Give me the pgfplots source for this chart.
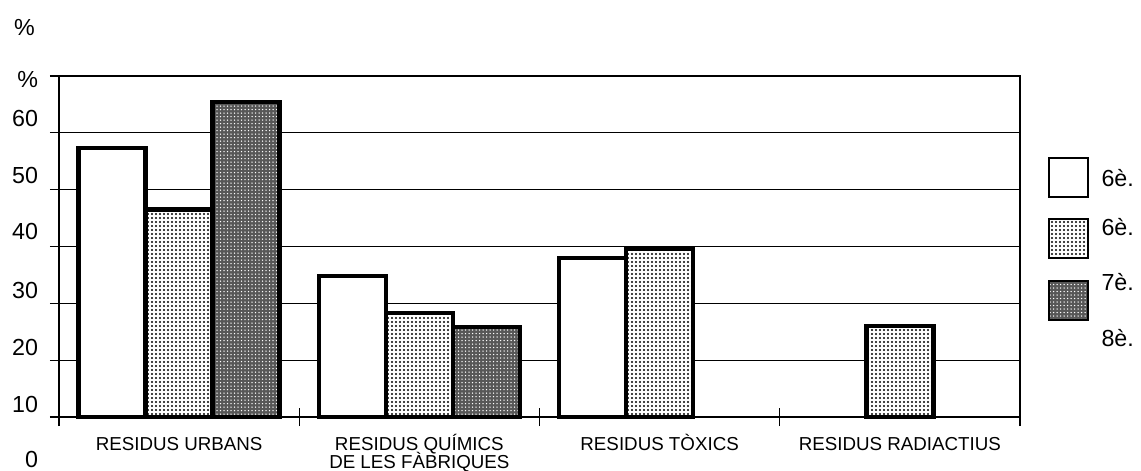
\documentclass[border=0pt]{standalone}
\usepackage{pgfplots}
\pgfplotsset{compat=1.18}
\usepackage{fontspec}
\setmainfont{Liberation Sans}
\usetikzlibrary{patterns.meta}

\tikzset{
  lightbar/.style={draw=black, preaction={fill=white}, pattern={Dots[distance=1.6pt,radius=0.45pt]}, pattern color=black},
  darkbar/.style={draw=black, preaction={fill=black!66}, pattern={Dots[distance=1.4pt,radius=0.3pt]}, pattern color=white},
}

\begin{document}
\begin{tikzpicture}
\useasboundingbox (-23.6pt,-21.2pt) rectangle (432.8pt,166.8pt);
\begin{axis}[
  at={(0pt,0pt)}, anchor=south west,
  scale only axis, width=384.4pt, height=136.4pt,
  xmin=-0.5, xmax=3.5, ymin=0, ymax=60,
  clip=false,
  ybar=0pt, bar width=26.8pt,
  axis line style={black, line width=0.5pt},
  tick pos=left,
  xtick=\empty,
  extra x ticks={-0.5,0.5,1.5,2.5,3.5},
  extra x tick labels={},
  extra x tick style={tick align=center, major tick length=7.2pt},
  ytick={0,10,...,60}, yticklabels={},
  tick align=outside, major tick length=3.6pt,
  ymajorgrids, grid style={black, line width=0.5pt},
  tick style={black, line width=0.5pt},
]
% 6è.
\addplot[draw=black, fill=white, line width=1.8pt] coordinates {(0,47.3) (1,24.8) (2,28.0)};
% 7è.
\addplot[lightbar, line width=1.8pt] coordinates {(0,36.5) (1,18.3) (2,29.6) (3,16.0)};
% 8è.
\addplot[darkbar, line width=1.8pt] coordinates {(0,55.4) (1,15.8)};

\node[anchor=base, font=\fontsize{7.5}{9}\selectfont] at ([yshift=-13.2pt]axis cs:0,0) {RESIDUS URBANS};
\node[anchor=base, font=\fontsize{7.5}{9}\selectfont] at ([yshift=-13.2pt]axis cs:1,0) {RESIDUS QUÍMICS};
\node[anchor=base, font=\fontsize{7.5}{9}\selectfont] at ([yshift=-20.6pt]axis cs:1,0) {DE LES FÀBRIQUES};
\node[anchor=base, font=\fontsize{7.5}{9}\selectfont] at ([yshift=-13.2pt]axis cs:2,0) {RESIDUS TÒXICS};
\node[anchor=base, font=\fontsize{7.5}{9}\selectfont] at ([yshift=-13.2pt]axis cs:3,0) {RESIDUS RADIACTIUS};
\end{axis}

% y labels (offset as in the original)
\begin{scope}[every node/.style={anchor=east, font=\fontsize{9.3}{10}\selectfont, inner sep=0pt}]
\node at (-8.2pt,135.2pt) {\%};
\node at (-8.2pt,119.6pt) {60};
\node at (-8.2pt,96.8pt) {50};
\node at (-8.2pt,74.4pt) {40};
\node at (-8.2pt,50.8pt) {30};
\node at (-8.2pt,28pt) {20};
\node at (-8.2pt,5.2pt) {10};
\node at (-8.2pt,-16.8pt) {0};
\end{scope}
\node[anchor=center, font=\fontsize{9.3}{10}\selectfont, inner sep=0pt] at (-13.8pt,155.6pt) {\%};

% legend
\draw[line width=0.8pt, fill=white] (396pt,88pt) rectangle (411.6pt,103.6pt);
\draw[line width=0.8pt, lightbar] (396pt,63.6pt) rectangle (411.6pt,79.2pt);
\draw[line width=0.8pt, darkbar] (396pt,38.8pt) rectangle (411.6pt,54.4pt);
\begin{scope}[every node/.style={anchor=west, font=\fontsize{9.3}{10}\selectfont, inner sep=0pt}]
\node at (416.8pt,95.6pt) {6è.};
\node at (416.8pt,76pt) {6è.};
\node at (416.8pt,54pt) {7è.};
\node at (416.8pt,31.6pt) {8è.};
\end{scope}
\end{tikzpicture}
\end{document}
